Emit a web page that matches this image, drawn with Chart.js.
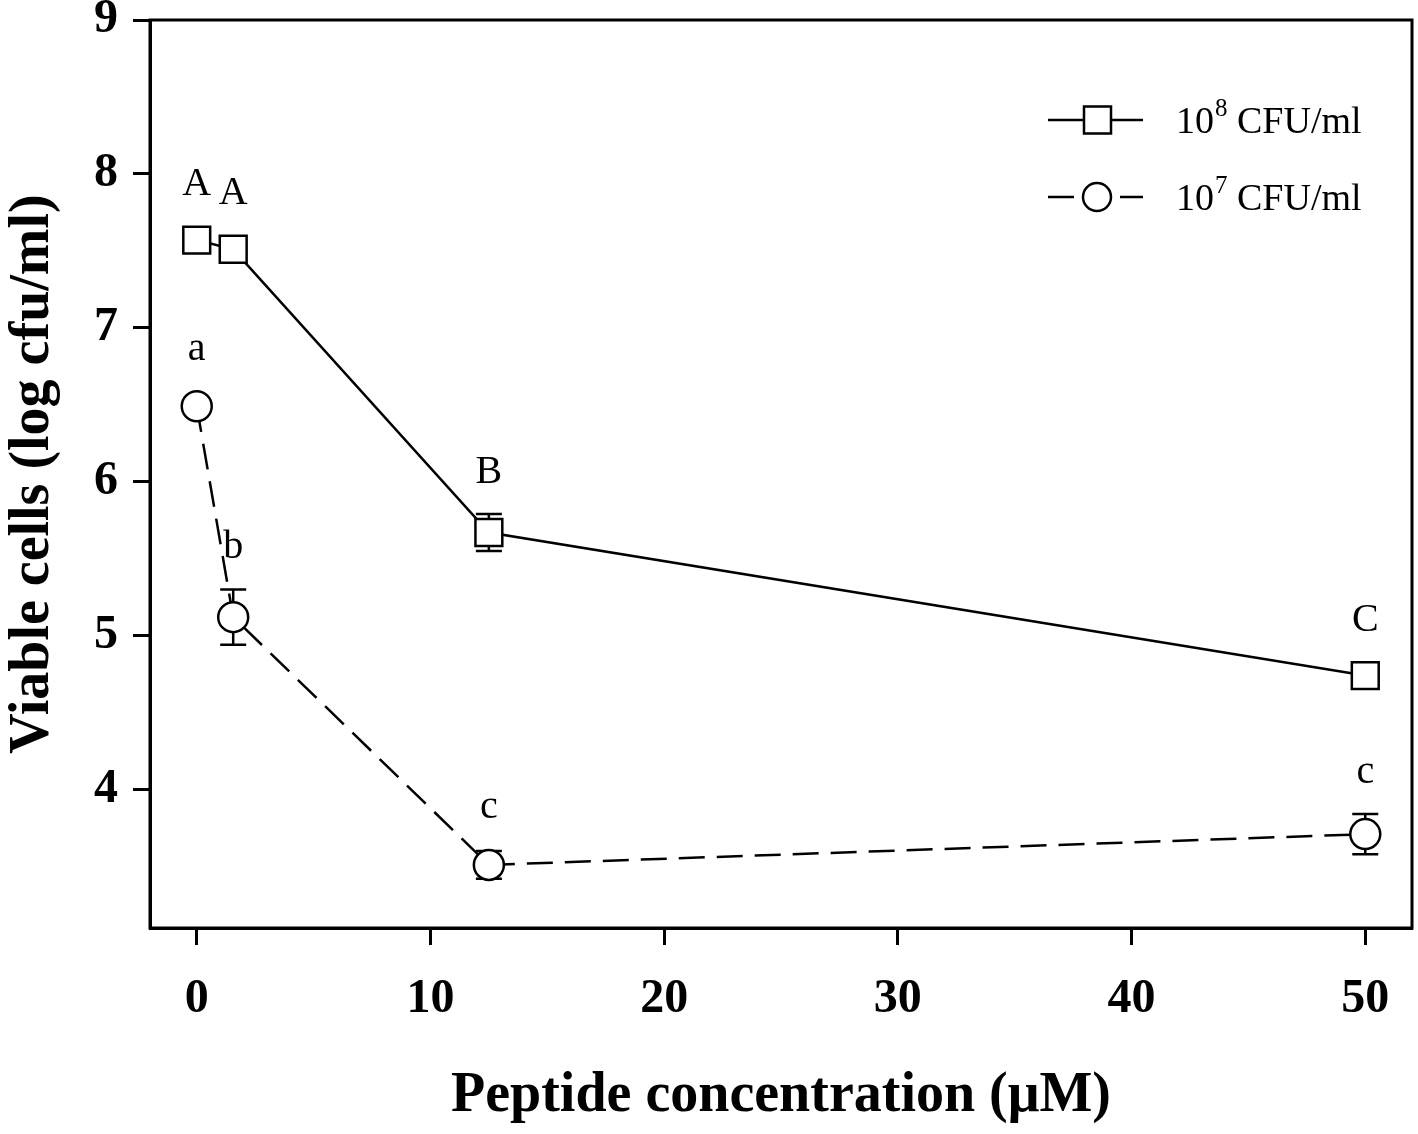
<!DOCTYPE html>
<html>
<head>
<meta charset="utf-8">
<script src="https://cdn.jsdelivr.net/npm/chart.js@4.4.0/dist/chart.umd.min.js"></script>
<style>
  body { margin: 0; background: #fff; }
  canvas { display: block; }
</style>
</head>
<body>
<canvas id="viableChart" width="1418" height="1134"></canvas>
<script>
// Peptide concentration (uM)
var concentrations = [0, 1.56, 12.5, 50];

// 10^8 CFU/ml series
var high = [7.57, 7.51, 5.67, 4.74];
var highErr = [0.04, 0.04, 0.12, 0.04];
var highLetters = ["A", "A", "B", "C"];

// 10^7 CFU/ml series
var low = [6.49, 5.12, 3.51, 3.71];
var lowErr = [0.04, 0.18, 0.09, 0.13];
var lowLetters = ["a", "b", "c", "c"];

var legendNames = [["10", "8", " CFU/ml"], ["10", "7", " CFU/ml"]];

var serif = "'Liberation Serif', 'Times New Roman', serif";

function toPoints(xs, ys) {
    return xs.map(function (x, i) { return { x: x, y: ys[i] }; });
}

// Error bars go under the markers.
const errorBars = {
    id: 'errorBars',
    beforeDatasetsDraw(chart) {
        const ctx = chart.ctx;
        const yScale = chart.scales.y;
        const xScale = chart.scales.x;
        ctx.save();
        ctx.strokeStyle = '#000';
        ctx.lineWidth = 2.5;
        chart.data.datasets.forEach(ds => {
            ds.errors.forEach((e, i) => {
                const px = xScale.getPixelForValue(ds.data[i].x);
                const top = yScale.getPixelForValue(ds.data[i].y + e);
                const bot = yScale.getPixelForValue(ds.data[i].y - e);
                ctx.beginPath();
                ctx.moveTo(px, top); ctx.lineTo(px, bot);
                ctx.moveTo(px - 13, top); ctx.lineTo(px + 13, top);
                ctx.moveTo(px - 13, bot); ctx.lineTo(px + 13, bot);
                ctx.stroke();
            });
        });
        ctx.restore();
    }
};

// Letters, frame and legend.
const extras = {
    id: 'extras',
    afterDatasetsDraw(chart) {
        const ctx = chart.ctx;
        const yScale = chart.scales.y;
        const xScale = chart.scales.x;
        const area = chart.chartArea;
        ctx.save();
        ctx.fillStyle = '#000';
        ctx.font = '40px ' + serif;
        ctx.textAlign = 'center';
        ctx.textBaseline = 'middle';
        chart.data.datasets.forEach(ds => {
            ds.letters.forEach((t, i) => {
                const px = xScale.getPixelForValue(ds.data[i].x);
                const markTop = yScale.getPixelForValue(ds.data[i].y) - ds.half;
                const errTop = yScale.getPixelForValue(ds.data[i].y + ds.errors[i]);
                ctx.fillText(t, px, Math.min(markTop, errTop) - 42);
            });
        });

        // frame
        ctx.strokeStyle = '#000';
        ctx.lineWidth = 3;
        ctx.strokeRect(area.left, area.top, area.right - area.left, area.bottom - area.top);

        // legend
        ctx.lineWidth = 2.5;
        ctx.textAlign = 'left';
        const rows = [120, 197];
        rows.forEach((ly, k) => {
            ctx.beginPath();
            if (k === 0) {
                ctx.moveTo(1048, ly); ctx.lineTo(1143, ly);
                ctx.stroke();
                ctx.fillStyle = '#fff';
                ctx.fillRect(1084, ly - 13.5, 27, 27);
                ctx.strokeRect(1084, ly - 13.5, 27, 27);
            } else {
                ctx.moveTo(1048, ly); ctx.lineTo(1074, ly);
                ctx.moveTo(1120, ly); ctx.lineTo(1143, ly);
                ctx.stroke();
                ctx.beginPath();
                ctx.fillStyle = '#fff';
                ctx.arc(1097, ly, 14, 0, Math.PI * 2);
                ctx.fill();
                ctx.stroke();
            }
            const parts = legendNames[k];
            let tx = 1176;
            ctx.fillStyle = '#000';
            ctx.textBaseline = 'alphabetic';
            ctx.font = '38px ' + serif;
            ctx.fillText(parts[0], tx, ly + 13);
            tx += ctx.measureText(parts[0]).width;
            ctx.font = '25px ' + serif;
            ctx.fillText(parts[1], tx + 1, ly - 4);
            tx += ctx.measureText(parts[1]).width + 1;
            ctx.font = '38px ' + serif;
            ctx.fillText(parts[2], tx, ly + 13);
        });
        ctx.restore();
    }
};

const ctx = document.getElementById('viableChart').getContext('2d');
const myChart = new Chart(ctx, {
    type: 'scatter',
    data: {
        datasets: [{
            label: '10^8 CFU/ml',
            data: toPoints(concentrations, high),
            errors: highErr,
            letters: highLetters,
            half: 13.5,
            showLine: true,
            borderColor: '#000',
            borderWidth: 2.5,
            pointStyle: 'rect',
            pointRadius: 19,
            pointBackgroundColor: '#fff',
            pointBorderColor: '#000',
            pointBorderWidth: 2.5
        }, {
            label: '10^7 CFU/ml',
            data: toPoints(concentrations, low),
            errors: lowErr,
            letters: lowLetters,
            half: 15,
            showLine: true,
            borderColor: '#000',
            borderWidth: 2.5,
            borderDash: [26, 12],
            pointStyle: 'circle',
            pointRadius: 15,
            pointBackgroundColor: '#fff',
            pointBorderColor: '#000',
            pointBorderWidth: 2.5
        }]
    },
    options: {
        responsive: false,
        animation: false,
        events: [],
        layout: { autoPadding: false, padding: { top: 20, right: 6, bottom: 0, left: 0 } },
        plugins: {
            legend: { display: false },
            tooltip: { enabled: false }
        },
        scales: {
            x: {
                type: 'linear',
                min: -2,
                max: 52,
                afterFit: (scale) => {
                    scale.height = 206;
                    scale.paddingLeft = 0;
                    scale.paddingRight = 0;
                },
                ticks: {
                    stepSize: 10,
                    includeBounds: false,
                    color: '#000',
                    padding: 26,
                    font: { family: serif, size: 48, weight: 'bold' }
                },
                grid: {
                    drawOnChartArea: false,
                    drawTicks: true,
                    tickLength: 17,
                    tickWidth: 3,
                    tickColor: '#000'
                },
                border: { display: true, color: '#000', width: 3 },
                title: {
                    display: true,
                    text: 'Peptide concentration (μM)',
                    color: '#000',
                    padding: { top: 0, bottom: 4 },
                    font: { family: serif, size: 56, weight: 'bold' }
                }
            },
            y: {
                type: 'linear',
                min: 3.1,
                max: 9,
                afterFit: (scale) => {
                    scale.width = 150;
                    scale.paddingTop = 0;
                    scale.paddingBottom = 0;
                },
                ticks: {
                    stepSize: 1,
                    includeBounds: false,
                    color: '#000',
                    padding: 15,
                    font: { family: serif, size: 48, weight: 'bold' }
                },
                grid: {
                    drawOnChartArea: false,
                    drawTicks: true,
                    tickLength: 17,
                    tickWidth: 3,
                    tickColor: '#000'
                },
                border: { display: true, color: '#000', width: 3 },
                title: {
                    display: true,
                    text: 'Viable cells (log cfu/ml)',
                    color: '#000',
                    padding: { top: 0, bottom: 0 },
                    font: { family: serif, size: 56, weight: 'bold' }
                }
            }
        }
    },
    plugins: [errorBars, extras]
});
</script>
</body>
</html>
